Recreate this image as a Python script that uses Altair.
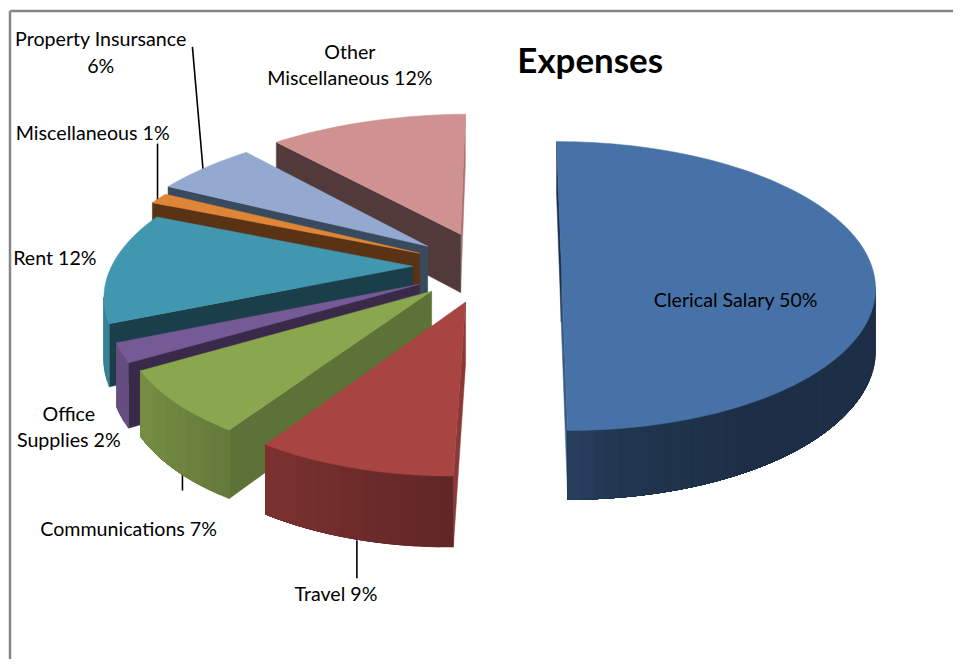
import math
import numpy as np
import altair as alt

# ---- values
CATEGORIES = ["Clerical Salary", "Travel", "Communications", "Office Supplies",
              "Rent", "Miscellaneous", "Property Insurance", "Other Miscellaneous"]
PERCENT = [50.0, 9.0, 7.4, 2.2, 12.6, 1.2, 5.8, 11.5]

# ---- text
TITLE = ["Expenses"]
LABEL_TEXT = ["Property Insursance", "6%", "Other", "Miscellaneous 12%", "Miscellaneous 1%",
              "Rent 12%", "Office", "Supplies 2%", "Communications 7%", "Travel 9%",
              "Clerical Salary 50%"]

# ---- layout (page pixels)
LABEL_X = [100, 100, 350, 350, 92, 54, 68, 68, 128, 336, 737]
LABEL_Y = [38, 65, 51, 77, 132, 258, 414, 440, 530, 595, 300]
APEX = [(562, 261), (466, 301), (432, 290), (420, 283), (413, 265), (420, 252), (428, 245), (461, 233)]
RADIUS = [1.0, 0.945, 0.945, 0.95, 0.97, 1.03, 1.06, 1.07]
LEADERS = [(192, 45, 203, 172), (157, 142, 157, 200), (182, 470, 182, 490), (357, 540, 357, 578)]
CX, CY, FX, FY, K, DEPTH, KZ = 529.0, 261.0, 310.0, 141.0, 0.165, 60.0, 0.13

# ---- styles
TOP = ["#4672A8", "#A84442", "#8AA64F", "#765A95", "#4097AF", "#DE8537", "#93A9CF", "#D09290"]
CUT = ["#1C3048", "#8B3836", "#5D7237", "#3A2A4A", "#1B3F4A", "#5A3315", "#3A4A5E", "#523A3A"]
PAINT = [7, 6, 5, 4, 3, 2, 1, 0]


def project(X, Y, Z=0.0):
    w = 1 + K * Y
    return [CX + FX * X / w, CY - FY * Y / w + DEPTH * Z / (1 + KZ * Y)]


def unproject(sx, sy):
    v = (CY - sy) / FY
    Y = v / (1 - K * v)
    return (sx - CX) * (1 + K * Y) / FX, Y


def shade(hex_color, f):
    r, g, b = [int(hex_color[i:i + 2], 16) for i in (1, 3, 5)]
    return "#%02x%02x%02x" % (int(r * f), int(g * f), int(b * f))


def cross(a, b, c):
    return (b[0] - a[0]) * (c[1] - b[1]) - (b[1] - a[1]) * (c[0] - b[0])


def feature(points, fill):
    ring = [[float(p[0]), float(p[1])] for p in points]
    ring.append(ring[0])
    return {"type": "Feature", "properties": {"fill": fill},
            "geometry": {"type": "Polygon", "coordinates": [ring]}}


edges = np.cumsum([0.0] + PERCENT) * 3.6
features = []
for i in PAINT:
    a0, a1 = edges[i], edges[i + 1]
    x0, y0 = unproject(*APEX[i])
    r = RADIUS[i]
    thetas = np.radians(np.linspace(a0, a1, max(3, int((a1 - a0) / 2) + 1)))

    def rim(t, z=0.0):
        return project(x0 + r * math.sin(t), y0 + r * math.cos(t), z)

    top_apex, bot_apex = project(x0, y0), project(x0, y0, 1)
    t0, t1 = thetas[0], thetas[-1]
    start = [top_apex, rim(t0), rim(t0, 1), bot_apex]
    end = [top_apex, rim(t1), rim(t1, 1), bot_apex]
    if cross(end[0], end[1], end[2]) > 0:
        features.append(feature(end, shade(TOP[i], 0.8)))
    if cross(start[0], start[1], start[2]) < 0:
        features.append(feature(start, CUT[i]))
    visible = [k for k in range(len(thetas) - 1)
               if cross(rim(thetas[k]), rim(thetas[k + 1]), rim(thetas[k + 1], 1)) < 0]
    for k in visible:
        tail = thetas[k:visible[-1] + 2]
        deg = math.degrees(thetas[k])
        f = float(np.interp(deg, [150, 170, 180, 212, 237, 270], [0.42, 0.47, 0.58, 0.74, 0.86, 0.9]))
        wall = [rim(t) for t in tail] + [rim(t, 1) for t in tail[::-1]]
        features.append(feature(wall, shade(TOP[i], f)))
    features.append(feature([top_apex] + [rim(t) for t in thetas], TOP[i]))

W, H = 947, 651
xs = alt.Scale(domain=[8, 955])
ys = alt.Scale(domain=[659, 8])

pie = (
    alt.Chart(alt.Data(values=features))
    .mark_geoshape(strokeWidth=0.5)
    .encode(color=alt.Color("properties.fill:N", scale=None),
            stroke=alt.Stroke("properties.fill:N", scale=None))
    .project(type="identity", scale=1, translate=[-8, -8])
)

leader_rows = [{"x": a, "y": b, "x2": c, "y2": d} for a, b, c, d in LEADERS]
leaders = (
    alt.Chart(alt.Data(values=leader_rows))
    .mark_rule(color="#000000", strokeWidth=1.6)
    .encode(x=alt.X("x:Q", scale=xs, axis=None), y=alt.Y("y:Q", scale=ys, axis=None),
            x2="x2:Q", y2="y2:Q")
)

frame_rows = [{"x": 9, "y": 9, "x2": 955, "y2": 9}, {"x": 9, "y": 9, "x2": 9, "y2": 659}]
frame = (
    alt.Chart(alt.Data(values=frame_rows))
    .mark_rule(color="#868686", strokeWidth=2.5)
    .encode(x=alt.X("x:Q", scale=xs, axis=None), y=alt.Y("y:Q", scale=ys, axis=None),
            x2="x2:Q", y2="y2:Q")
)

label_rows = [{"t": t, "x": x, "y": y} for t, x, y in zip(LABEL_TEXT, LABEL_X, LABEL_Y)]
labels = (
    alt.Chart(alt.Data(values=label_rows))
    .mark_text(font="Lato", fontSize=19.7, color="#000000", baseline="middle", align="center")
    .encode(x=alt.X("x:Q", scale=xs, axis=None), y=alt.Y("y:Q", scale=ys, axis=None), text="t:N")
)

title = (
    alt.Chart(alt.Data(values=[{"t": TITLE[0], "x": 591, "y": 60}]))
    .mark_text(font="Lato", fontSize=35, fontWeight="bold", color="#000000", baseline="middle", align="center")
    .encode(x=alt.X("x:Q", scale=xs, axis=None), y=alt.Y("y:Q", scale=ys, axis=None), text="t:N")
)

chart = (
    alt.layer(frame, leaders, pie, labels, title)
    .properties(width=W, height=H, padding=0, background="#ffffff")
    .configure_view(stroke=None)
)
chart.save("out.html", embed_options={"renderer": "svg", "actions": False})
